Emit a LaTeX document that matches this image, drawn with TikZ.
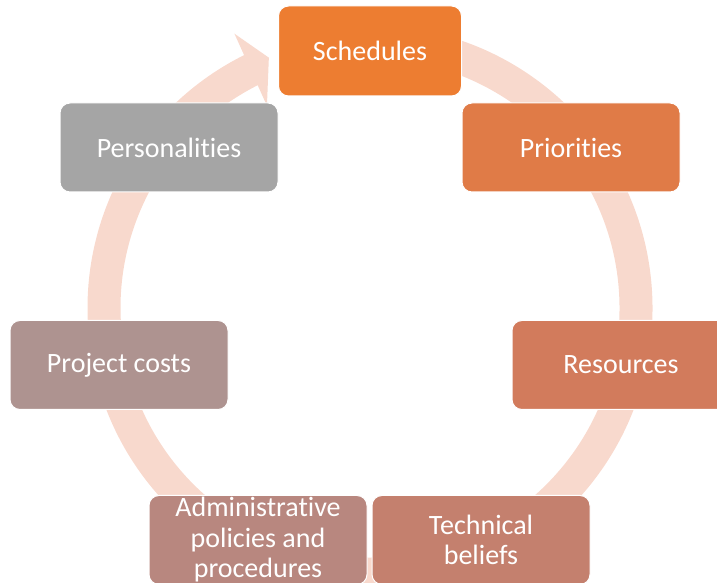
\documentclass[tikz,border=0pt]{standalone}
\usepackage{fontspec}
\setmainfont{Carlito}[Ligatures=NoCommon]
\usetikzlibrary{calc}
\definecolor{ringc}{RGB}{248,217,205}
\definecolor{c1}{RGB}{237,125,49}
\definecolor{c2}{RGB}{224,123,71}
\definecolor{c3}{RGB}{210,123,92}
\definecolor{c4}{RGB}{196,128,110}
\definecolor{c5}{RGB}{184,135,127}
\definecolor{c6}{RGB}{174,147,144}
\definecolor{c7}{RGB}{165,165,165}
\tikzset{
  box/.style={draw=white, line width=1pt, rounded corners=10pt, minimum width=218pt, minimum height=89pt,
    inner sep=0pt, align=center, text=white, font=\fontsize{28}{30.5}\selectfont},
}
\begin{document}
\begin{tikzpicture}[x=1pt,y=1pt]
\useasboundingbox (0,0) rectangle (717,583);
\clip (0,0) rectangle (717,583);
\coordinate (c) at (370,275);
% ring
\draw[ringc, line width=33pt] (c) ++(95:266) arc[start angle=95, end angle=-243.8, radius=266];
\fill[ringc] ($(c)+(117:227)$) -- ($(c)+(112:270)$) -- ($(c)+(116.3:306)$) -- cycle;
% boxes
\node[box, fill=c1, minimum width=183pt, minimum height=90pt] (s) at (370,532) {Schedules};
\node[box, fill=c2] (p) at (571,435.5) {Priorities};
\node[box, fill=c3] (r) at (621,218) {Resources};
\node[box, fill=c4] (t) at (481,43) {Technical\\beliefs};
\node[box, fill=c5] (a) at (258,43) {Administrative\\policies and\\procedures};
\node[box, fill=c6] (pc) at (119,218) {Project costs};
\node[box, fill=c7] (pe) at (169,435.5) {Personalities};
\end{tikzpicture}
\end{document}
